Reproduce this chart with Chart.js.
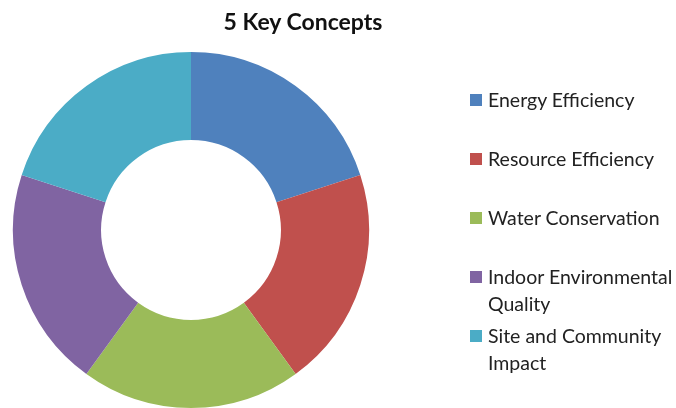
<!DOCTYPE html>
<html>
<head>
<meta charset="utf-8">
<script src="https://cdn.jsdelivr.net/npm/chart.js@4"></script>
<style>
  body { margin: 0; background: #fff; }
  #wrap { position: relative; width: 676px; height: 408px; overflow: hidden; font-family: Lato, "Noto Sans", sans-serif; }
  #title { position: absolute; left: 0; width: 606px; top: 7px; text-align: center; font-weight: bold; font-size: 23px; color: #111; }
  #legend { position: absolute; left: 470px; top: 86px; margin: 0; padding: 0; list-style: none; }
  #legend li { position: relative; height: 59px; padding-left: 18px; font-size: 19.5px; line-height: 27px; color: #222; white-space: nowrap; }
  #legend li span { position: absolute; left: 0; top: 8px; width: 12px; height: 12px; }
</style>
</head>
<body>
<div id="wrap">
  <canvas id="chart" width="676" height="408"></canvas>
  <div id="title">5 Key Concepts</div>
  <ul id="legend"></ul>
</div>
<script>
const title = "5 Key Concepts";
const categories = [
  ["Energy Efficiency"],
  ["Resource Efficiency"],
  ["Water Conservation"],
  ["Indoor Environmental", "Quality"],
  ["Site and Community", "Impact"]
];
const values = [20, 20, 20, 20, 20];
const colors = ["#4F81BD", "#C0504D", "#9BBB59", "#8064A2", "#4BACC6"];

const chart = new Chart(document.getElementById("chart"), {
  type: "doughnut",
  data: {
    labels: categories,
    datasets: [{
      data: values,
      backgroundColor: colors,
      borderWidth: 0
    }]
  },
  options: {
    responsive: false,
    animation: false,
    cutout: "50.5%",
    layout: { padding: { left: 13, right: 307, top: 52, bottom: 0 } },
    plugins: {
      legend: { display: false },
      title: { display: false },
      tooltip: { enabled: false }
    }
  }
});

// legend built from the chart's own labels and colours
const legend = document.getElementById("legend");
chart.data.labels.forEach((lines, i) => {
  const li = document.createElement("li");
  li.innerHTML = `<span style="background:${colors[i]}"></span>${lines.join("<br>")}`;
  legend.appendChild(li);
});
</script>
</body>
</html>
